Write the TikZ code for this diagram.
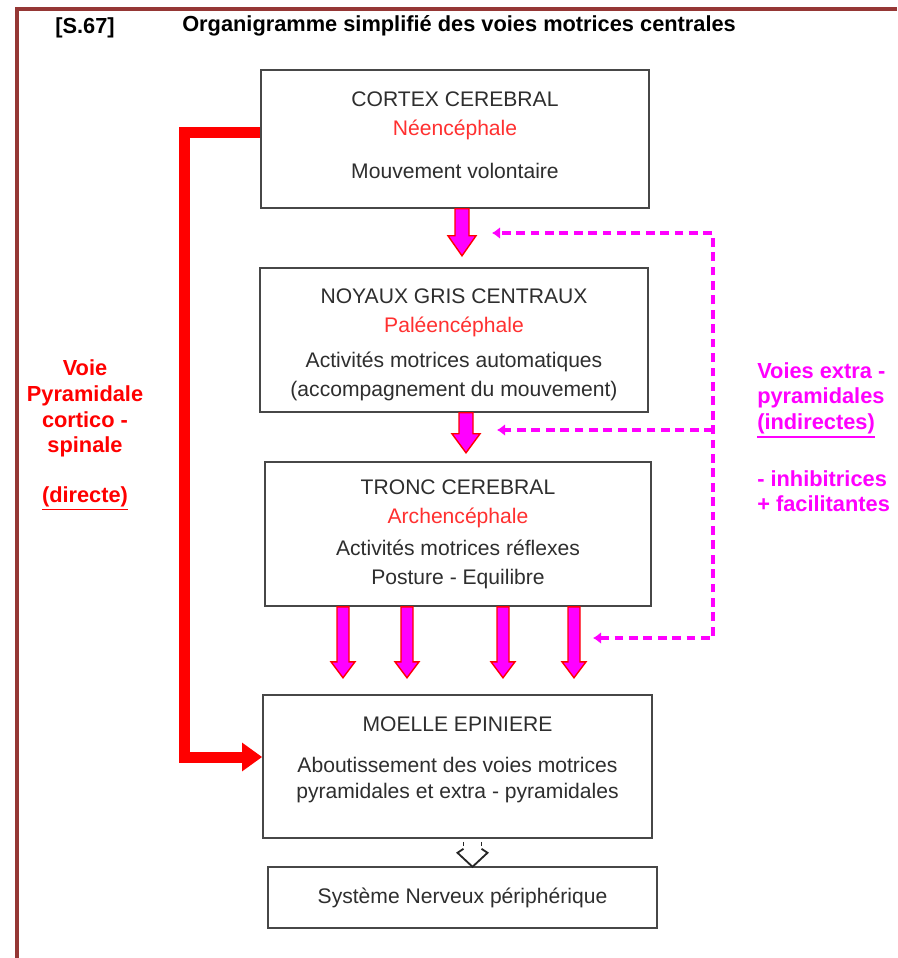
\documentclass[tikz,border=0pt]{standalone}
\usepackage{fontspec}
\setmainfont{Liberation Sans}
\usepackage{tikz}
\usetikzlibrary{arrows.meta,calc}
\definecolor{cadre}{HTML}{953735}
\definecolor{pyrred}{HTML}{FF0000}
\definecolor{extmag}{HTML}{FF00FF}
\definecolor{encred}{HTML}{FF3030}
\definecolor{boxgray}{HTML}{2E2E2E}
\newsavebox{\soulbox}
\newcommand{\souligne}[1]{\sbox{\soulbox}{#1}\rlap{\rule[-5.5pt]{\wd\soulbox}{1.2pt}}\usebox{\soulbox}}
\tikzset{
  boite/.style={draw=black!72, line width=1.1pt, fill=white, align=center, text=boxgray,
                font=\fontsize{15}{20.6}\selectfont, minimum width=9.7cm, inner sep=0pt},
  blocarr/.style={fill=extmag, draw=pyrred, line width=1pt, line join=miter},
  pyrarr/.style={draw=pyrred, line width=0.275cm, line join=miter,
                 -{Triangle[length=0.5cm,width=0.68cm]}},
  extra/.style={draw=extmag, line width=0.11cm, dash pattern=on 0.22cm off 0.14cm},
  lab/.style={font=\fontsize{15.5}{18.4}\selectfont\bfseries, inner sep=0pt},
  creux/.style={draw=black!85, line width=1.3pt},
}
% block arrow pointing down: start, stem length, stem half width, head half width, head length
\newcommand{\flechebloc}[5]{%
  \filldraw[blocarr] #1 ++(-#3,0) -- ++(2*#3,0) -- ++(0,#2) -- ++(#4-#3,0)
    -- ++(-#4,#5) -- ++(-#4,-#5) -- ++(#4-#3,0) -- cycle;}

\begin{document}
\begin{tikzpicture}[x=0.025cm,y=-0.025cm]
  \useasboundingbox (0,0) rectangle (897,958);
  % frame
  \draw[cadre, line width=0.1cm, line join=miter] (17,958) -- (17,9) -- (897,9);
  % title
  \node[anchor=base west, inner sep=0pt, font=\fontsize{15.5}{18}\selectfont\bfseries] (ref) at (55,34) {[S.67]};
  \node[anchor=base west, inner sep=0pt, font=\fontsize{15.5}{18}\selectfont\bfseries] (titre) at (182,32)
       {Organigramme simplifié des voies motrices centrales};
  % boxes
  \node[boite, minimum height=3.45cm] (cortex) at (455,139)
       {CORTEX CEREBRAL\\\textcolor{encred}{Néencéphale}\\[10pt]Mouvement volontaire\\[-15pt]\mbox{}};
  \node[boite, minimum height=3.6cm] (noyaux) at (454,340)
       {\mbox{}\\[-3pt]NOYAUX GRIS CENTRAUX\\\textcolor{encred}{Paléencéphale}\\[4pt]Activités motrices automatiques\\(accompagnement du mouvement)};
  \node[boite, minimum width=9.65cm, minimum height=3.6cm] (tronc) at (458,534)
       {TRONC CEREBRAL\\\textcolor{encred}{Archencéphale}\\[2pt]Activités motrices réflexes\\Posture - Equilibre};
  \node[boite, minimum width=9.725cm, minimum height=3.575cm] (moelle) at (457.5,766.5)
       {MOELLE EPINIERE\\[8.5pt]Aboutissement des voies motrices\\[-2pt]pyramidales et extra - pyramidales\\[-8pt]\mbox{}};
  \node[boite, minimum width=9.725cm, minimum height=1.525cm] (snp) at (462.5,897.5)
       {Système Nerveux périphérique};
  % block arrows
  \flechebloc{($(cortex.south)+(7,0)$)}{27}{7}{14}{20}
  \flechebloc{($(noyaux.south)+(12,0)$)}{21}{7}{14}{19}
  \foreach \dx in {-115,-51,45,116}
    \flechebloc{($(tronc.south)+(\dx,0)$)}{55}{6}{12}{16};
  % pyramidal way
  \coordinate (pyrA) at ($(cortex.west)+(0,-6)$);
  \coordinate (pyrB) at ($(moelle.west)+(0,-9.5)$);
  \draw[pyrarr] (pyrA) -- ++(-76,0) |- (pyrB);
  % extra-pyramidal ways
  \coordinate (ext1) at (492,233);
  \coordinate (ext2) at (497,430);
  \coordinate (ext3) at (593,638);
  \coordinate (extcoin) at (713,233);
  \draw[extra, {Latex[length=0.2cm,width=0.3cm]}-{Latex[length=0.2cm,width=0.3cm]}]
       (ext3) -| (extcoin) -- (ext1);
  \draw[extra, -{Latex[length=0.2cm,width=0.3cm]}] (extcoin |- ext2) -- (ext2);
  % hollow arrow to the peripheral system
  \begin{scope}[shift={($(moelle.south)+(15,0)$)}]
    \draw[creux] (-9,3) -- (-9,7) (9,3) -- (9,7);
    \draw[creux, line join=miter] (-9,10) -- (-15,14) -- (0,28) -- (15,14) -- (9,10);
  \end{scope}
  % side labels
  \node[lab, text=pyrred, align=center] (pyrlab) at (85,435)
       {Voie\\Pyramidale\\cortico -\\spinale\\[17pt]\souligne{(directe)}};
  \node[lab, text=extmag, align=left, anchor=north west] (extlab) at (757,362)
       {Voies extra -\\pyramidales\\\souligne{(indirectes)}\\[21.6pt]- inhibitrices\\+ facilitantes};
\end{tikzpicture}
\end{document}
